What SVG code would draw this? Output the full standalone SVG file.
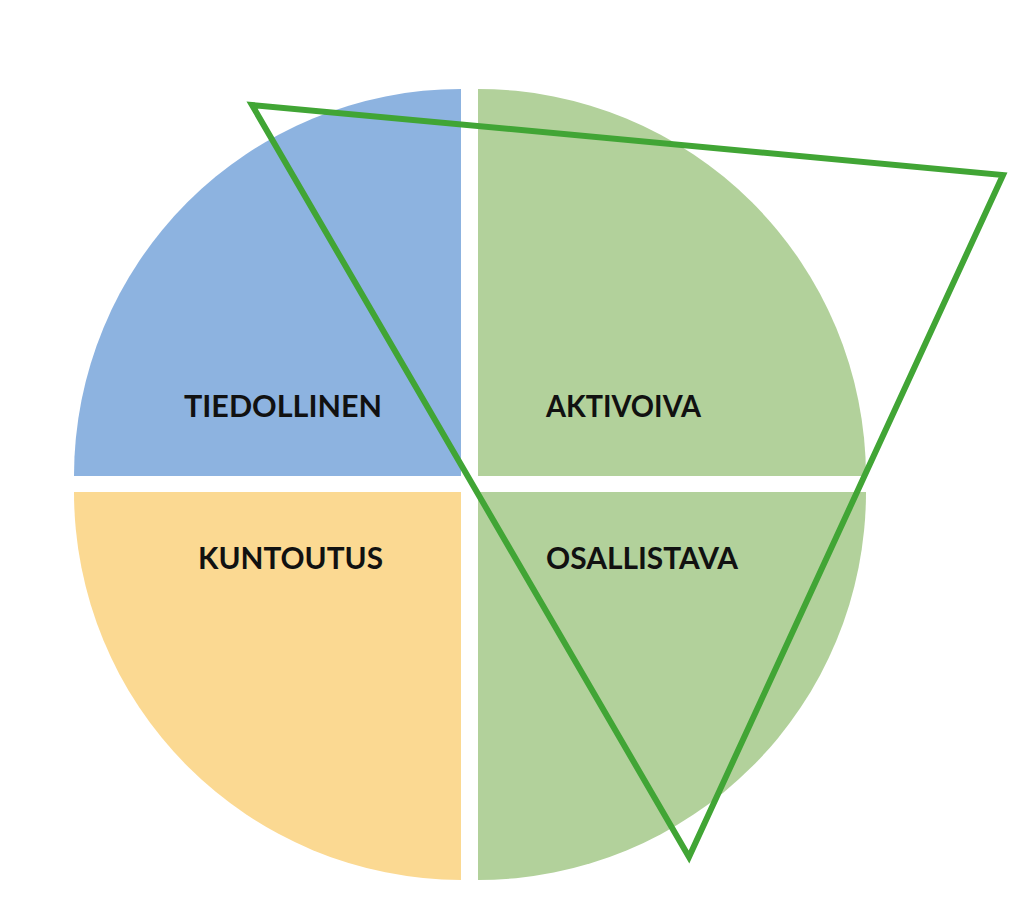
<svg xmlns="http://www.w3.org/2000/svg" width="1024" height="899" viewBox="0 0 1024 899">
<style>
.lbl{font-family:Lato,"Open Sans","Liberation Sans",sans-serif;font-weight:bold;font-size:30px;fill:#111111}
</style>
<rect width="1024" height="899" fill="#ffffff"/>
<g id="tiedollinen">
<path d="M461,476 L74,476 A387,387 0 0 1 461,89 Z" fill="#8DB3E0"/>
<text class="lbl" x="184" y="417" textLength="198" lengthAdjust="spacingAndGlyphs">TIEDOLLINEN</text>
</g>
<g id="aktivoiva">
<path d="M478,476 L478,89 A388,388 0 0 1 866,476 Z" fill="#B2D19B"/>
<text class="lbl" x="546" y="417" textLength="155" lengthAdjust="spacingAndGlyphs">AKTIVOIVA</text>
</g>
<g id="kuntoutus">
<path d="M461,492 L461,880 A388,388 0 0 1 74,492 Z" fill="#FBD992"/>
<text class="lbl" x="198" y="569" textLength="185" lengthAdjust="spacingAndGlyphs">KUNTOUTUS</text>
</g>
<g id="osallistava">
<path d="M478,492 L866,492 A388,388 0 0 1 478,880 Z" fill="#B2D19B"/>
<text class="lbl" x="546" y="569" textLength="192" lengthAdjust="spacingAndGlyphs">OSALLISTAVA</text>
</g>
<g id="connectors">
<polygon points="252,105 1003,175 689,857" fill="none" stroke="#41A535" stroke-width="6" stroke-linejoin="miter"/>
</g>
</svg>
